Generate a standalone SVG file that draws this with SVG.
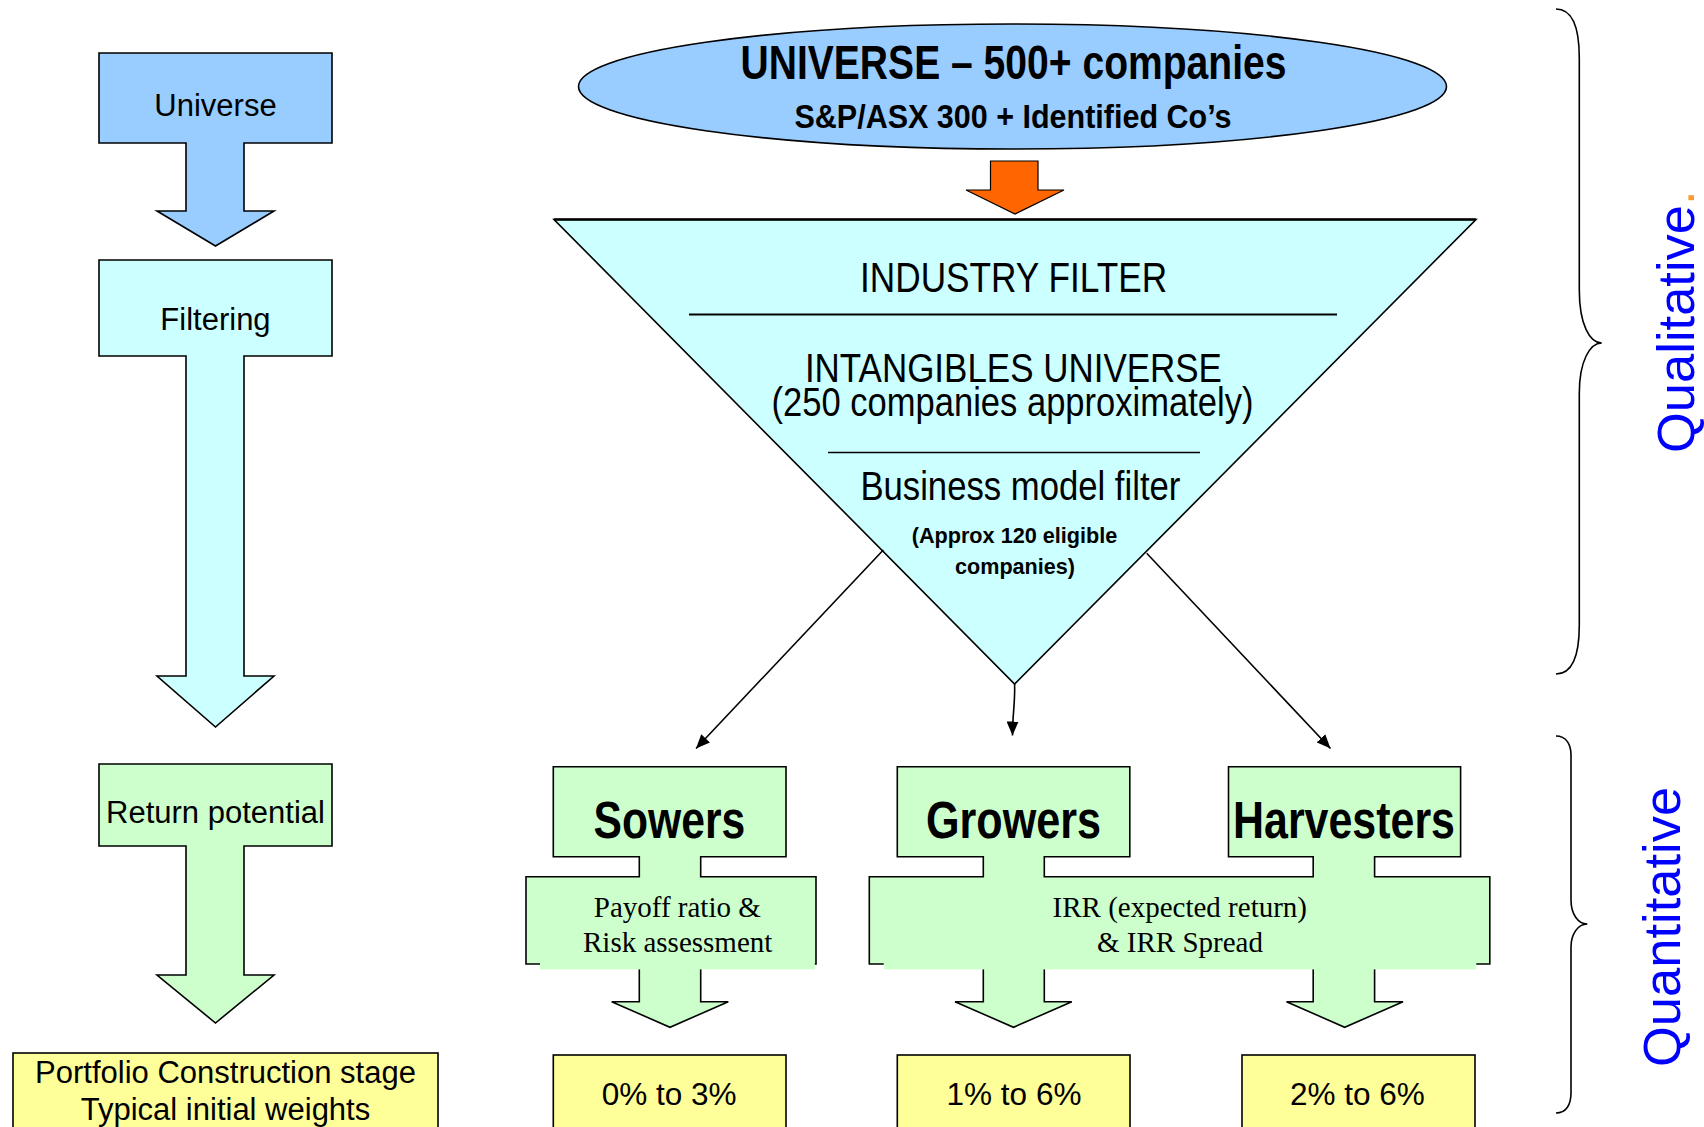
<svg xmlns="http://www.w3.org/2000/svg" width="1704" height="1127" viewBox="0 0 1704 1127">
  <defs>
    <style>
      .ol { stroke: #000; stroke-width: 1.6; stroke-linejoin: miter; }
      .blue { fill: #99ccff; }
      .cyan { fill: #ccffff; }
      .green { fill: #ccffcc; }
      .yellow { fill: #ffff99; }
      .sans { font-family: "Liberation Sans", Arial, sans-serif; fill: #000; }
      .narrow { font-family: "Liberation Sans Narrow", "Liberation Sans", Arial, sans-serif; fill: #000; }
      .serif { font-family: "Liberation Serif", "Times New Roman", serif; fill: #000; }
      .side { font-family: "Liberation Sans", Arial, sans-serif; font-size: 52.5px; fill: #0000ff; }
      .conn { stroke: #000; stroke-width: 1.6; fill: none; }
    </style>
    <marker id="ah" viewBox="0 0 14 12" refX="14" refY="6" markerWidth="14" markerHeight="12" orient="auto" markerUnits="userSpaceOnUse">
      <path d="M0,0 L14,6 L0,12 Z" fill="#000"/>
    </marker>
  </defs>

  <rect width="1704" height="1127" fill="#fff"/>

  <!-- Left column: stage arrows -->
  <g id="stage-universe">
    <path class="ol blue" d="M99,53 H332 V143 H244 V211 H274 L215.5,246 L157,211 H186 V143 H99 Z"/>
    <text class="sans" x="215.5" y="116" font-size="31" text-anchor="middle">Universe</text>
  </g>
  <g id="stage-filtering">
    <path class="ol cyan" d="M99,260 H332 V356 H244 V676 H274 L215.5,727 L157,676 H186 V356 H99 Z"/>
    <text class="sans" x="215.5" y="330" font-size="31" text-anchor="middle">Filtering</text>
  </g>
  <g id="stage-return">
    <path class="ol green" d="M99,764 H332 V846 H244 V975 H274 L215.5,1023 L157,975 H186 V846 H99 Z"/>
    <text class="sans" x="215.5" y="823" font-size="31" text-anchor="middle">Return potential</text>
  </g>
  <g id="stage-portfolio">
    <rect class="ol yellow" x="13" y="1053" width="425" height="95"/>
    <text class="sans" x="225.5" y="1083" font-size="31" text-anchor="middle">Portfolio Construction stage</text>
    <text class="sans" x="225.5" y="1120" font-size="31" text-anchor="middle">Typical initial weights</text>
  </g>

  <!-- Universe ellipse -->
  <g id="universe">
    <ellipse class="ol blue" cx="1012.5" cy="86.5" rx="434" ry="62.5"/>
    <text class="narrow" x="1013.5" y="78.5" font-size="48" font-weight="bold" text-anchor="middle" textLength="546" lengthAdjust="spacingAndGlyphs">UNIVERSE – 500+ companies</text>
    <text class="narrow" x="1013" y="128" font-size="34" font-weight="bold" text-anchor="middle" textLength="437" lengthAdjust="spacingAndGlyphs">S&amp;P/ASX 300 + Identified Co’s</text>
  </g>

  <!-- Orange block arrow into the funnel -->
  <g id="universe-arrow">
    <path d="M990.5,161 H1038 V190 H1064 L1015,214 L966,190 H990.5 Z" fill="#ff6600" stroke="#000" stroke-width="1.2"/>
  </g>

  <!-- Filter funnel -->
  <g id="funnel">
    <path class="cyan" d="M554,219.5 L1476,219.5 L1014.6,684 Z" stroke="#000" stroke-width="1.6"/>
    <line x1="554" y1="219.5" x2="1476" y2="219.5" stroke="#000" stroke-width="2.4"/>
    <text class="narrow" x="1013.6" y="291.7" font-size="42" text-anchor="middle" textLength="307" lengthAdjust="spacingAndGlyphs">INDUSTRY FILTER</text>
    <line x1="689" y1="314.5" x2="1337" y2="314.5" stroke="#000" stroke-width="1.8"/>
    <text class="narrow" x="1013.4" y="381.7" font-size="40" text-anchor="middle" textLength="417" lengthAdjust="spacingAndGlyphs">INTANGIBLES UNIVERSE</text>
    <text class="narrow" x="1012.5" y="416.2" font-size="40" text-anchor="middle" textLength="482" lengthAdjust="spacingAndGlyphs">(250 companies approximately)</text>
    <line x1="828" y1="452.5" x2="1200" y2="452.5" stroke="#000" stroke-width="1.6"/>
    <text class="narrow" x="1020.4" y="500" font-size="40" text-anchor="middle" textLength="320" lengthAdjust="spacingAndGlyphs">Business model filter</text>
    <text class="narrow" x="1014.5" y="543.3" font-size="22.5" font-weight="bold" text-anchor="middle" textLength="205.6" lengthAdjust="spacingAndGlyphs">(Approx 120 eligible</text>
    <text class="narrow" x="1015" y="573.5" font-size="22.5" font-weight="bold" text-anchor="middle" textLength="120" lengthAdjust="spacingAndGlyphs">companies)</text>
  </g>

  <!-- Connectors from the funnel to the three categories -->
  <g id="connectors">
    <line class="conn" x1="883.3" y1="550" x2="696" y2="748.5" marker-end="url(#ah)"/>
    <path class="conn" d="M1014.6,684 C1015.2,704 1012.6,712 1012.5,735.5" marker-end="url(#ah)"/>
    <line class="conn" x1="1146.7" y1="553.3" x2="1330.5" y2="748.5" marker-end="url(#ah)"/>
  </g>

  <!-- Sowers -->
  <g id="sowers">
    <path class="ol green" d="M553.3,766.7 H786 V856.7 H700.7 V876.7 H816 V964 H700.7 V1001.7 H728.3 L670,1027.3 L611.7,1001.7 H639.3 V964 H526 V876.7 H639.3 V856.7 H553.3 Z"/>
    <rect class="green" x="540" y="878.2" width="274.8" height="91.2"/>
    <text class="narrow" x="669.4" y="838.3" font-size="51" font-weight="bold" text-anchor="middle" textLength="151.7" lengthAdjust="spacingAndGlyphs">Sowers</text>
    <text class="serif" x="677.3" y="916.7" font-size="29" text-anchor="middle">Payoff ratio &amp;</text>
    <text class="serif" x="677.7" y="951.7" font-size="29" text-anchor="middle">Risk assessment</text>
  </g>

  <!-- Growers and Harvesters share one assessment band -->
  <g id="growers-harvesters">
    <path class="ol green" d="M897.3,766.7 H1129.8 V856.7 H1044.3 V876.7 H1313.2 V856.7 H1228.5 V766.7 H1460.6 V856.7 H1374.6 V876.7 H1489.8 V964 H1374.6 V1001.7 H1403 L1344.7,1027.3 L1286.5,1001.7 H1313.2 V964 H1044.3 V1001.7 H1071.8 L1013.5,1027.3 L955,1001.7 H983.3 V964 H869.3 V876.7 H983.3 V856.7 H897.3 Z"/>
    <rect class="green" x="883.7" y="878.2" width="592.6" height="91.2"/>
    <text class="narrow" x="1013.5" y="838.3" font-size="51" font-weight="bold" text-anchor="middle" textLength="175" lengthAdjust="spacingAndGlyphs">Growers</text>
    <text class="narrow" x="1344" y="838.3" font-size="51" font-weight="bold" text-anchor="middle" textLength="222" lengthAdjust="spacingAndGlyphs">Harvesters</text>
    <text class="serif" x="1179.8" y="916.7" font-size="29" text-anchor="middle">IRR (expected return)</text>
    <text class="serif" x="1180" y="951.7" font-size="29" text-anchor="middle">&amp; IRR Spread</text>
  </g>

  <!-- Typical initial weights -->
  <g id="weight-sowers">
    <rect class="ol yellow" x="553.3" y="1055" width="232.7" height="95"/>
    <text class="sans" x="669.2" y="1105" font-size="31.5" text-anchor="middle">0% to 3%</text>
  </g>
  <g id="weight-growers">
    <rect class="ol yellow" x="897.3" y="1055" width="232.7" height="95"/>
    <text class="sans" x="1014" y="1105" font-size="31.5" text-anchor="middle">1% to 6%</text>
  </g>
  <g id="weight-harvesters">
    <rect class="ol yellow" x="1242" y="1055" width="233" height="95"/>
    <text class="sans" x="1357.3" y="1105" font-size="31.5" text-anchor="middle">2% to 6%</text>
  </g>

  <!-- Side braces -->
  <g id="qualitative">
    <path class="conn" d="M1556,9 C1572,9 1579.3,25 1579.3,58 L1579.3,290 C1579.3,325 1590,343 1601.7,343 C1590,343 1579.3,361 1579.3,393 L1579.3,625 C1579.3,658 1572,674 1556,674"/>
    <text class="side" transform="translate(1694,453) rotate(-90)">Qualitative<tspan fill="#ff9933">.</tspan></text>
  </g>
  <g id="quantitative">
    <path class="conn" d="M1556,736 C1566,736 1571,744 1571,755 L1571,900 C1571,914 1578,924 1587.3,924 C1578,924 1571,934 1571,947 L1571,1093 C1571,1105 1566,1113 1556,1113"/>
    <text class="side" transform="translate(1680,1067) rotate(-90)">Quantitative</text>
  </g>
</svg>
